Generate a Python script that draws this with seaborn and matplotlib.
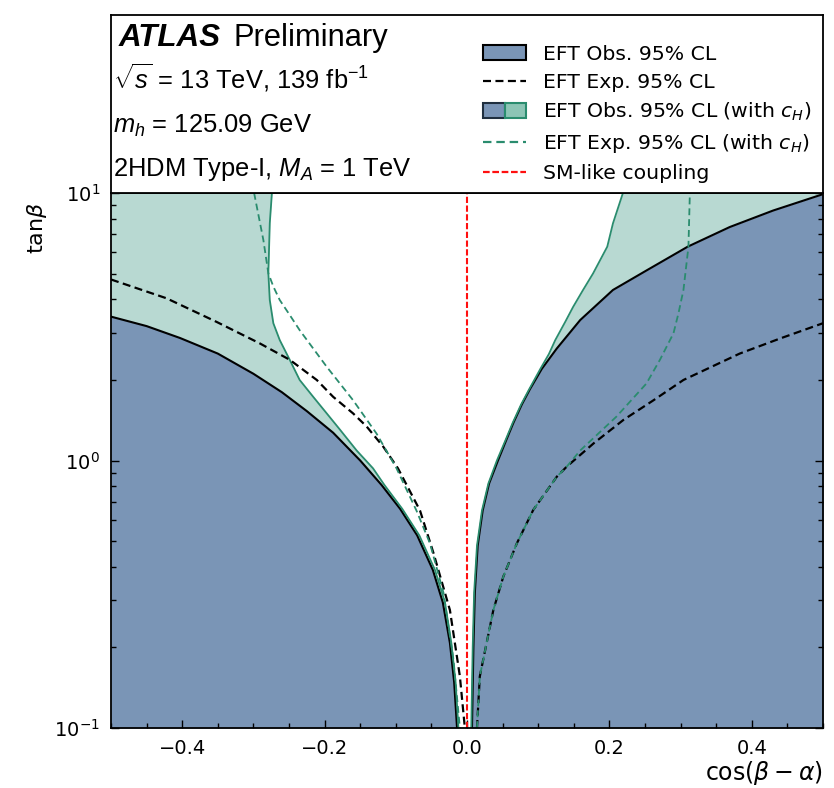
import matplotlib
matplotlib.use("Agg")
import numpy as np
import pandas as pd
import seaborn as sns
import matplotlib.pyplot as plt
from matplotlib.patches import Patch
from matplotlib.lines import Line2D
from matplotlib.legend_handler import HandlerTuple
from matplotlib.ticker import MultipleLocator, FixedLocator, LogLocator, NullFormatter

# ---------------- data ----------------
# EFT observed 95% CL boundary (black solid), left branch
obs_left_x = [-0.500, -0.450, -0.403, -0.350, -0.300, -0.260, -0.225, -0.188, -0.150, -0.120, -0.094,
              -0.070, -0.048, -0.034, -0.024, -0.018, -0.014]
obs_left_y = [3.45, 3.18, 2.87, 2.51, 2.11, 1.80, 1.53, 1.27, 1.00, 0.81, 0.66,
              0.525, 0.39, 0.295, 0.208, 0.148, 0.10]
# right branch
obs_right_x = [0.007, 0.009, 0.011, 0.015, 0.022, 0.031, 0.0435, 0.055, 0.065, 0.077, 0.088, 0.105,
               0.126, 0.159, 0.205, 0.253, 0.310, 0.369, 0.430, 0.500]
obs_right_y = [0.10, 0.20, 0.32, 0.48, 0.65, 0.82, 1.00, 1.19, 1.38, 1.62, 1.84, 2.20,
               2.62, 3.35, 4.34, 5.15, 6.30, 7.46, 8.60, 9.90]

# EFT observed with c_H (green solid), as cos(b-a) at given tanb
cH_obs_left_y = [0.10, 0.148, 0.208, 0.295, 0.39, 0.525, 0.66, 0.81, 0.935, 1.09, 1.30, 1.50, 1.73,
                 2.00, 2.38, 2.82, 3.26, 3.98, 5.01, 7.71, 10.0]
cH_obs_left_x = [-0.012, -0.016, -0.022, -0.031, -0.045, -0.067, -0.091, -0.116, -0.132, -0.155, -0.178,
                 -0.197, -0.216, -0.235, -0.249, -0.263, -0.272, -0.277, -0.279, -0.277, -0.274]
cH_obs_right_y = [0.10, 0.20, 0.32, 0.48, 0.65, 0.82, 1.00, 1.19, 1.38, 1.62, 1.84, 2.20, 2.50,
                  2.82, 3.30, 3.75, 4.34, 5.00, 6.30, 7.70, 10.0]
cH_obs_right_x = [0.006, 0.008, 0.010, 0.014, 0.021, 0.030, 0.042, 0.054, 0.064, 0.076, 0.087, 0.103, 0.115,
                  0.124, 0.138, 0.149, 0.163, 0.177, 0.197, 0.205, 0.219]

# EFT expected 95% CL (black dashed)
exp_left_x = [-0.500, -0.422, -0.352, -0.291, -0.249, -0.211, -0.188, -0.160, -0.141, -0.118, -0.097,
              -0.066, -0.047, -0.024, -0.010, -0.003]
exp_left_y = [4.75, 4.04, 3.30, 2.74, 2.38, 2.00, 1.73, 1.50, 1.34, 1.13, 0.935,
              0.65, 0.45, 0.276, 0.156, 0.10]
exp_right_x = [0.014, 0.018, 0.037, 0.051, 0.070, 0.093, 0.126, 0.140, 0.178, 0.220, 0.262, 0.304,
               0.383, 0.440, 0.500]
exp_right_y = [0.10, 0.156, 0.276, 0.368, 0.49, 0.653, 0.869, 0.948, 1.16, 1.42, 1.68, 2.00,
               2.51, 2.86, 3.26]

# EFT expected with c_H (green dashed)
cH_exp_left_x = [-0.299, -0.286, -0.279, -0.272, -0.263, -0.249, -0.235, -0.197, -0.160, -0.127, -0.099,
                 -0.071, -0.052, -0.033, -0.019, -0.010]
cH_exp_left_y = [10.0, 6.67, 5.01, 4.47, 3.98, 3.50, 3.07, 2.24, 1.68, 1.26, 0.935,
                 0.65, 0.49, 0.32, 0.18, 0.10]
cH_exp_right_x = [0.014, 0.018, 0.037, 0.051, 0.070, 0.093, 0.126, 0.140, 0.159, 0.210, 0.252, 0.271,
                  0.290, 0.297, 0.304, 0.311, 0.313]
cH_exp_right_y = [0.10, 0.156, 0.276, 0.368, 0.49, 0.653, 0.869, 0.948, 1.09, 1.46, 1.94, 2.38,
                  2.99, 3.55, 4.34, 6.29, 10.0]

# SM-like coupling
sm_x = [0.0, 0.0]
sm_y = [0.1, 10.0]

x_ticks = [-0.4, -0.2, 0.0, 0.2, 0.4]
x_tick_labels = ["\u22120.4", "\u22120.2", "0.0", "0.2", "0.4"]
legend_labels = ["EFT Obs. 95% CL", "EFT Exp. 95% CL", r"EFT Obs. 95% CL (with $c_H$)",
                 r"EFT Exp. 95% CL (with $c_H$)", "SM-like coupling"]
info_lines = [r"$\sqrt{s}$ = 13 TeV, 139 fb$^{-1}$", r"$m_h$ = 125.09 GeV",
              r"2HDM Type-I, $M_A$ = 1 TeV"]

# ---------------- style ----------------
sns.set_theme(style="ticks")
plt.rcParams["font.family"] = ["DejaVu Sans"]
plt.rcParams.update({
    "axes.edgecolor": "black",
    "axes.linewidth": 1.3,
    "axes.axisbelow": False,
    "xtick.color": "black",
    "ytick.color": "black",
    "text.color": "black",
    "mathtext.fontset": "dejavusans",
    "mathtext.rm": "Liberation Sans",
    "mathtext.it": "Liberation Sans:italic",
    "mathtext.bf": "Liberation Sans:bold",
    "mathtext.sf": "Liberation Sans",
})

BLUE = "#7a95b6"
GREEN_FILL = "#b8d9d2"
GREEN = "#2a8c6e"
RED = "#ff1010"

W, H = 834, 788
fig = plt.figure(figsize=(W / 100, H / 100), dpi=100)
fx = lambda p: p / W
fy = lambda p: 1 - p / H
L, R, T, MID, B = 111, 823, 15, 193, 728
ax = fig.add_axes([fx(L), fy(B), fx(R) - fx(L), fy(MID) - fy(B)])
axt = fig.add_axes([fx(L), fy(MID), fx(R) - fx(L), fy(T) - fy(MID)])

# ---------------- plot ----------------
ax.set_yscale("log")
ax.set_xlim(-0.5, 0.5)
ax.set_ylim(0.1, 10)
ax.set_axisbelow(False)

ax.fill_betweenx(cH_obs_left_y, -0.5, cH_obs_left_x, color=GREEN_FILL, lw=0, zorder=1)
ax.fill_betweenx(cH_obs_right_y, cH_obs_right_x, 0.5, color=GREEN_FILL, lw=0, zorder=1)
ax.fill_between(obs_left_x, 0.1, obs_left_y, color=BLUE, lw=0, zorder=2)
ax.fill_between(obs_right_x, 0.1, obs_right_y, color=BLUE, lw=0, zorder=2)

def line(x, y, **kw):
    df = pd.DataFrame({"x": x, "y": y})
    sns.lineplot(data=df, x="x", y="y", ax=ax, sort=False, estimator=None, **kw)

BD = (0, (3.6, 2.0))
GD = (0, (3.8, 2.2))
RD = (0, (3.0, 1.2))
line(obs_left_x, obs_left_y, color="black", lw=1.5, zorder=3)
line(obs_right_x, obs_right_y, color="black", lw=1.5, zorder=3)
line(cH_obs_left_x, cH_obs_left_y, color=GREEN, lw=1.3, zorder=4)
line(cH_obs_right_x, cH_obs_right_y, color=GREEN, lw=1.3, zorder=4)
line(exp_left_x, exp_left_y, color="black", lw=1.6, linestyle=BD, zorder=5)
line(exp_right_x, exp_right_y, color="black", lw=1.6, linestyle=BD, zorder=5)
line(cH_exp_left_x, cH_exp_left_y, color=GREEN, lw=1.3, linestyle=GD, zorder=6)
line(cH_exp_right_x, cH_exp_right_y, color=GREEN, lw=1.3, linestyle=GD, zorder=6)
line(sm_x, sm_y, color=RED, lw=1.5, linestyle=RD, zorder=7)

ax.set_xlabel("")
ax.set_ylabel("")
ax.xaxis.set_major_locator(FixedLocator(x_ticks))
ax.set_xticklabels(x_tick_labels)
ax.xaxis.set_minor_locator(MultipleLocator(0.05))
ax.yaxis.set_major_locator(LogLocator(base=10, numticks=10))
ax.yaxis.set_minor_locator(LogLocator(base=10, subs=np.arange(2, 10), numticks=20))
ax.yaxis.set_minor_formatter(NullFormatter())
ax.tick_params(which="both", direction="in", top=False, right=True, left=True, bottom=True,
               labelsize=14, width=1.0, zorder=11)
ax.tick_params(which="major", length=6, pad=8)
ax.tick_params(which="minor", length=3.5)
for s in ax.spines.values():
    s.set_linewidth(1.3)
    s.set_zorder(10)

# top panel
axt.set_xticks([])
axt.set_yticks([])
for s in axt.spines.values():
    s.set_linewidth(1.3)

fig.text(fx(119), fy(46), "ATLAS", fontsize=22.6, fontweight="bold", fontstyle="italic",
         family="Liberation Sans")
fig.text(fx(233), fy(46), "Preliminary", fontsize=22.2, family="Liberation Sans")
for txt, py in zip(info_lines, [88, 133, 176]):
    t = fig.text(fx(113), fy(py), txt, fontsize=18.4, family="Liberation Sans")
    t.set_math_fontfamily("custom")

handles = [
    Patch(facecolor=BLUE, edgecolor="black", linewidth=1.5),
    Line2D([], [], color="black", lw=1.6, linestyle=BD),
    (Patch(facecolor=BLUE, edgecolor="#1f2f3f", linewidth=1.5),
     Patch(facecolor="#8cc5b5", edgecolor=GREEN, linewidth=1.5)),
    Line2D([], [], color=GREEN, lw=1.6, linestyle=GD),
    Line2D([], [], color=RED, lw=1.6, linestyle=RD),
]
axt.legend(handles, legend_labels, loc="upper right", bbox_to_anchor=(1.0, 0.90),
           frameon=False, fontsize=14.7, handlelength=2.1, handleheight=0.75,
           handletextpad=0.8, labelspacing=0.44, borderaxespad=0.2,
           handler_map={tuple: HandlerTuple(ndivide=None, pad=0)})

fig.text(fx(823), fy(773), r"cos($\beta-\alpha$)", fontsize=17, ha="right", va="center")
fig.text(fx(37), fy(228), r"tan$\beta$", fontsize=16, rotation=90, ha="center", va="center")

fig.savefig("out.png", dpi=100)
